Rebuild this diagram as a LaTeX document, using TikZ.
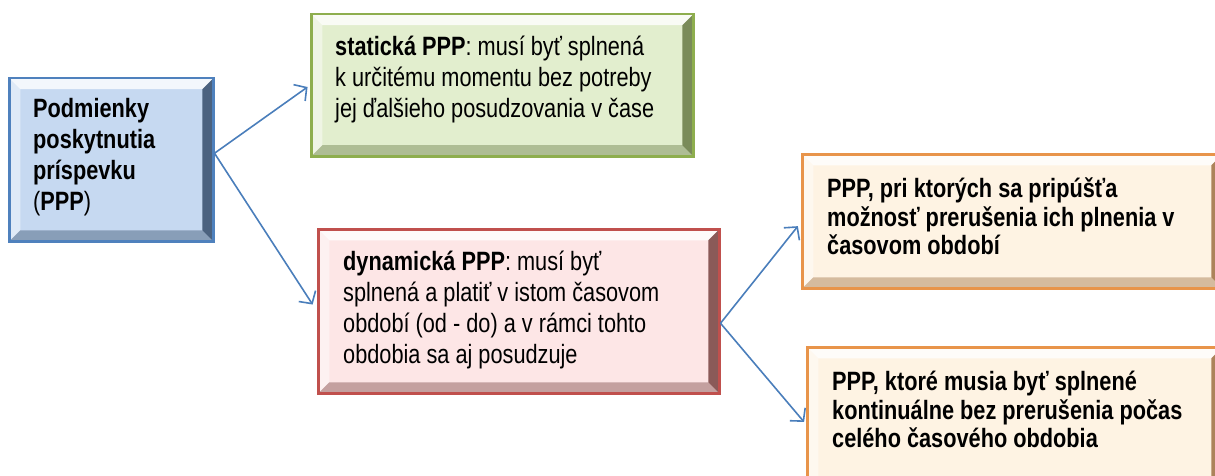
\documentclass[tikz,border=0pt]{standalone}
\usepackage{fontspec}
\setmainfont{Liberation Sans}[FakeStretch=0.82]
\usetikzlibrary{arrows.meta,calc}
\definecolor{arrowblue}{HTML}{4A7EBB}
\definecolor{bluefill}{HTML}{C6D9F1}
\definecolor{blueedge}{HTML}{4F81BD}
\definecolor{bluedark}{HTML}{17304F}
\definecolor{greenfill}{HTML}{E2EECE}
\definecolor{greenedge}{HTML}{8EAE4E}
\definecolor{greendark}{HTML}{4F6228}
\definecolor{pinkfill}{HTML}{FDE6E6}
\definecolor{pinkedge}{HTML}{C0504D}
\definecolor{pinkdark}{HTML}{5A1F1D}
\definecolor{orangefill}{HTML}{FEF3E3}
\definecolor{orangeedge}{HTML}{E8944A}
\definecolor{orangedark}{HTML}{8A5420}
\tikzset{
  bevelbox/.style n args={3}{
    rectangle, inner sep=0pt, anchor=north west,
    fill=#1, draw=#2, line width=2.5pt,
    path picture={
      \path (path picture bounding box.south west) coordinate (pSW)
            (path picture bounding box.north east) coordinate (pNE)
            (pSW|-pNE) coordinate (pNW)
            (pNE|-pSW) coordinate (pSE);
      \path ([shift={(11pt,11pt)}]pSW) coordinate (iSW)
            ([shift={(-11pt,-11pt)}]pNE) coordinate (iNE)
            (iSW|-iNE) coordinate (iNW)
            (iNE|-iSW) coordinate (iSE);
      \fill[white,opacity=.8] (pNW) -- (pNE) -- (iNE) -- (iNW) -- cycle;
      \fill[white,opacity=.45] (pNW) -- (iNW) -- (iSW) -- (pSW) -- cycle;
      \fill[#3,opacity=.35] (pSW) -- (iSW) -- (iSE) -- (pSE) -- cycle;
      \fill[#3,opacity=.7] (pSE) -- (iSE) -- (iNE) -- (pNE) -- cycle;
    }
  },
  txt/.style={anchor=north west, inner sep=0pt, align=left,
    font=\fontsize{26.5pt}{31pt}\selectfont},
  txtb/.style={anchor=north west, inner sep=0pt, align=left,
    font=\fontsize{26.5pt}{28pt}\selectfont\bfseries}
  ,conn/.style={draw=arrowblue, line width=1.6pt,
    -{Straight Barb[length=9pt,width=20pt,line width=1.6pt]}}
}
\begin{document}
\begin{tikzpicture}[x=1pt,y=-1pt]
\useasboundingbox (0,0) rectangle (1215,476);
\node[bevelbox={bluefill}{blueedge}{bluedark}, minimum width=204pt, minimum height=163pt] (A) at (8,77) {};
\node[bevelbox={greenfill}{greenedge}{greendark}, minimum width=382pt, minimum height=142pt] (B) at (310,13) {};
\node[bevelbox={pinkfill}{pinkedge}{pinkdark}, minimum width=401pt, minimum height=164pt] (C) at (317,228) {};
\node[bevelbox={orangefill}{orangeedge}{orangedark}, minimum width=420pt, minimum height=134pt] (D) at (801,153) {};
\node[bevelbox={orangefill}{orangeedge}{orangedark}, minimum width=415pt, minimum height=140pt] (E) at (806,346) {};

% first baselines: A 117, B 55, C 270, D 197, E 390 ; strut height .7*baselineskip
\node[txt] (tA) at (33,95.3)
  {\strut\textbf{Podmienky}\\\textbf{poskytnutia}\\\textbf{príspevku}\\(\textbf{PPP})};
\node[txt] (tB) at (335,33.3)
  {\strut\textbf{statická PPP}: musí byť splnená\\k určitému momentu bez potreby\\jej ďalšieho posudzovania v čase};
\node[txt] (tC) at (343,248.3)
  {\strut\textbf{dynamická PPP}: musí byť\\splnená a platiť v istom časovom\\období (od - do) a v rámci tohto\\obdobia sa aj posudzuje};
\node[txtb] (tD) at (827,177.4)
  {\strut PPP, pri ktorých sa pripúšťa\\možnosť prerušenia ich plnenia v\\časovom období};
\node[txtb] (tE) at (832,370.4)
  {\strut PPP, ktoré musia byť splnené\\kontinuálne bez prerušenia počas\\celého časového obdobia};

\draw[conn, shorten >=3pt] ([yshift=6.5pt]A.east) -- (B.west);
\draw[conn, shorten >=8pt] ([yshift=6.5pt]A.east) -- (C.west);
\draw[conn, shorten >=5pt] ([yshift=-12pt]C.east) -- ([yshift=-1pt]D.west);
\draw[conn, shorten >=3pt] ([yshift=-12pt]C.east) -- ([yshift=-7pt]E.west);
\end{tikzpicture}
\end{document}
